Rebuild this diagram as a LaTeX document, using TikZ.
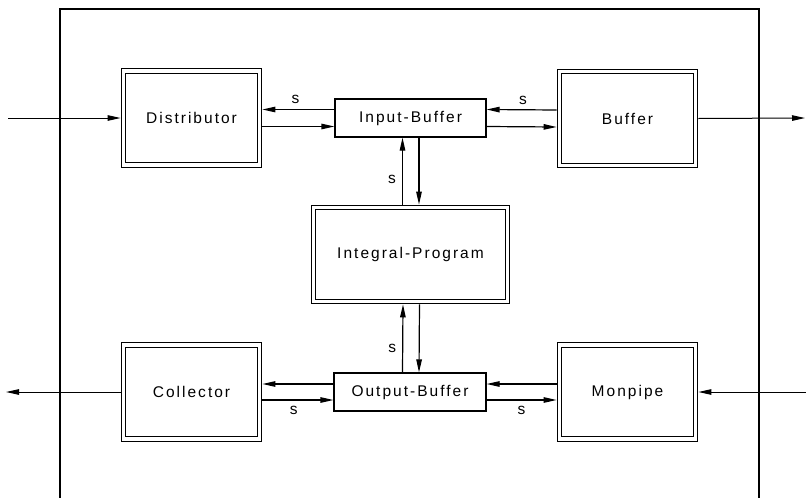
\documentclass[tikz,border=0pt]{standalone}
\usepackage{fontspec}
\setmainfont{Liberation Sans}[LetterSpace=13]
\usetikzlibrary{arrows.meta,calc}
\begin{document}
\begin{tikzpicture}[x=1pt,y=-1pt,
  every node/.style={font=\fontsize{15.5}{18}\selectfont},
  unit/.style={draw, double, line width=1.2pt, double distance=3.4pt,
    minimum width=136pt, minimum height=94pt, inner sep=0pt, outer sep=2.9pt},
  buf/.style={draw, line width=1.2pt, minimum height=38pt, inner sep=0pt},
  arr/.style={line width=1.2pt, -{Triangle[length=13pt,width=5.5pt]}},
  wire/.style={line width=1pt, -{Triangle[length=13pt,width=5.5pt]}},
  lab/.style={inner sep=1pt}]
\useasboundingbox (0,0) rectangle (806,498);

% enclosing frame, open at the bottom
\draw[line width=1.2pt] (60,498) -- (60,9) -- (759,9) -- (759,498);

% processes
\node[unit] (dist) at (191.5,118) {Distributor};
\node[unit] (bufr) at (627.5,118.5) {Buffer};
\node[unit, minimum width=194pt] (integ) at (410.5,254.5) {Integral-Program};
\node[unit] (coll) at (191.5,392) {Collector};
\node[unit] (mon) at (627.5,392) {Monpipe};

% buffers
\node[buf, minimum width=151pt] (ib) at (410.5,118) {Input-Buffer};
\node[buf, minimum width=152pt] (ob) at (410,392) {Output-Buffer};

% external ends
\coordinate (in) at (8,118);
\coordinate (out) at (805,118);
\coordinate (cout) at (6,392);
\coordinate (min) at (806,392);

% external connections
\draw[wire] (in) -- (dist.west);
\draw[wire] (bufr.east) -- (out);
\draw[wire] (coll.west) -- (cout);
\draw[wire] (min) -- (mon.east);

% top row
\draw[arr] ([yshift=8.5pt]ib.west) -- ([yshift=8.5pt]dist.east)
  node[lab, pos=0.54, above=4pt] {s};
\draw[arr] ([yshift=-8.5pt]dist.east) -- ([yshift=-8.5pt]ib.west);
\draw[arr] ([yshift=8.5pt]bufr.west) -- ([yshift=8.5pt]ib.east)
  node[lab, pos=0.48, above=4pt] {s};
\draw[arr] ([yshift=-8.5pt]ib.east) -- ([yshift=-8.5pt]bufr.west);

% vertical links
\draw[arr] ([xshift=-8pt]integ.north) -- ([xshift=-8pt]ib.south)
  node[lab, pos=0.37, left=5pt] {s};
\draw[arr] ([xshift=8.5pt]ib.south) -- ([xshift=8.5pt]integ.north);
\draw[arr] ([xshift=-7.5pt]ob.north) -- ([xshift=-7.5pt]integ.south)
  node[lab, pos=0.36, left=5pt] {s};
\draw[arr] ([xshift=9pt]integ.south) -- ([xshift=9pt]ob.north);

% bottom row
\draw[arr] ([yshift=8pt]ob.west) -- ([yshift=8pt]coll.east);
\draw[arr] ([yshift=-8pt]coll.east) -- ([yshift=-8pt]ob.west)
  node[lab, pos=0.44, below=5pt] {s};
\draw[arr] ([yshift=8pt]mon.west) -- ([yshift=8pt]ob.east);
\draw[arr] ([yshift=-8pt]ob.east) -- ([yshift=-8pt]mon.west)
  node[lab, pos=0.5, below=5pt] {s};
\end{tikzpicture}
\end{document}
